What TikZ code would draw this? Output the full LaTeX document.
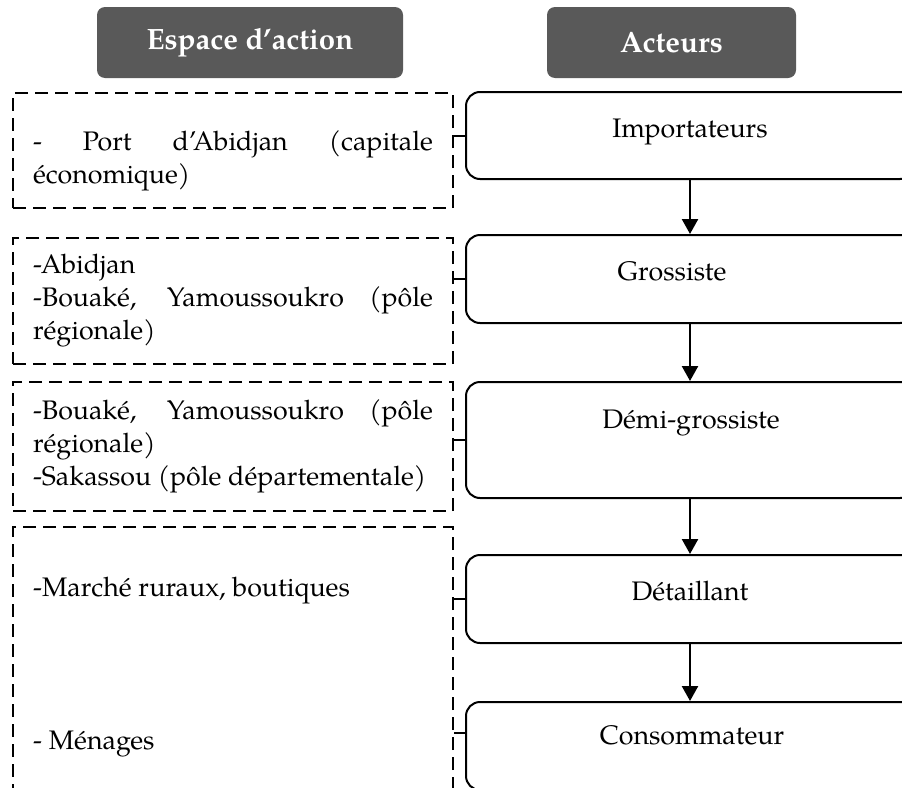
\documentclass[tikz,border=0pt]{standalone}
\usepackage{fontspec}
\setmainfont{TeX Gyre Pagella}
\usetikzlibrary{arrows.meta}

\definecolor{entetegris}{HTML}{595959}
\newcommand{\corps}{\fontsize{26.8}{33}\selectfont}

\begin{document}
\begin{tikzpicture}[x=1pt,y=-1pt,
  entete/.style={fill=entetegris,rounded corners=8pt,text=white,inner sep=0pt,
    minimum height=71pt,font=\fontsize{29.4}{35}\selectfont\bfseries},
  zone/.style={draw,line width=2pt,dash pattern=on 13pt off 7pt,minimum width=440pt},
  zonetexte/.style={text width=400pt,align=justify,font=\corps},
  acteur/.style={draw,line width=2pt,rounded corners=14pt,minimum width=448pt},
  libelle/.style={font=\corps,inner sep=0pt},
  fleche/.style={line width=2.4pt,-{Triangle[length=15pt,width=16pt]}},
  lien/.style={line width=2pt}]
  \useasboundingbox (0,0) rectangle (902,787);
  \clip (0,0) rectangle (902,787);

  % Headers
  \node[entete,minimum width=306pt] (hEspace) at (250,42.5) {Espace d'action};
  \node[entete,minimum width=249pt] (hActeurs) at (671.5,42.5) {Acteurs};

  % Espace d'action (dashed)
  \node[zone,minimum height=115pt] (zone1) at (233,150.5) {};
  \node[zonetexte] (tPort) at (233,161) {- Port d'Abidjan (capitale\linebreak économique)};
  \node[zone,zonetexte,minimum height=126pt] (zone2) at (233,301)
    {-Abidjan\\ -Bouaké, Yamoussoukro (pôle\linebreak régionale)};
  \node[zone,zonetexte,minimum height=129pt] (zone3) at (233,446.5)
    {-Bouaké, Yamoussoukro (pôle\linebreak régionale)\\ -Sakassou (pôle départementale)};
  \node[zone,minimum height=303pt] (zone4) at (233,678.5) {};
  \node[libelle,anchor=west] (marche) at (33,591) {-Marché ruraux, boutiques};
  \node[libelle,anchor=west] (menages) at (33,744) {- Ménages};

  % Acteurs
  \node[acteur,minimum height=87pt] (act1) at (690,135.5) {};
  \node[acteur,minimum height=88pt] (act2) at (690,279) {};
  \node[acteur,minimum height=116pt] (act3) at (690,440) {};
  \node[acteur,minimum height=88pt] (act4) at (690,599) {};
  \node[acteur,minimum height=88pt] (act5) at (690,746) {};

  \node[libelle] (tImp) at (690,132) {Importateurs};
  \node[libelle] (tGro) at (672,271) {Grossiste};
  \node[libelle] (tDemi) at (691,423) {Démi-grossiste};
  \node[libelle] (tDet) at (690,591) {Détaillant};
  \node[libelle] (tCons) at (692,735) {Consommateur};

  % Flow
  \draw[fleche] (act1.south) -- (act2.north);
  \draw[fleche] (act2.south) -- (act3.north);
  \draw[fleche] (act3.south) -- (act4.north);
  \draw[fleche] (act4.south) -- (act5.north);

  % Links zone -> acteur
  \draw[lien] (act1.west) -- (act1.west -| zone1.east);
  \draw[lien] (act2.west) -- (act2.west -| zone2.east);
  \draw[lien] (act3.west) -- (act3.west -| zone3.east);
  \draw[lien] (act4.west) -- (act4.west -| zone4.east);
  \draw[lien] ([yshift=13pt]act5.west) -- ([yshift=13pt]act5.west -| zone4.east);
\end{tikzpicture}
\end{document}
